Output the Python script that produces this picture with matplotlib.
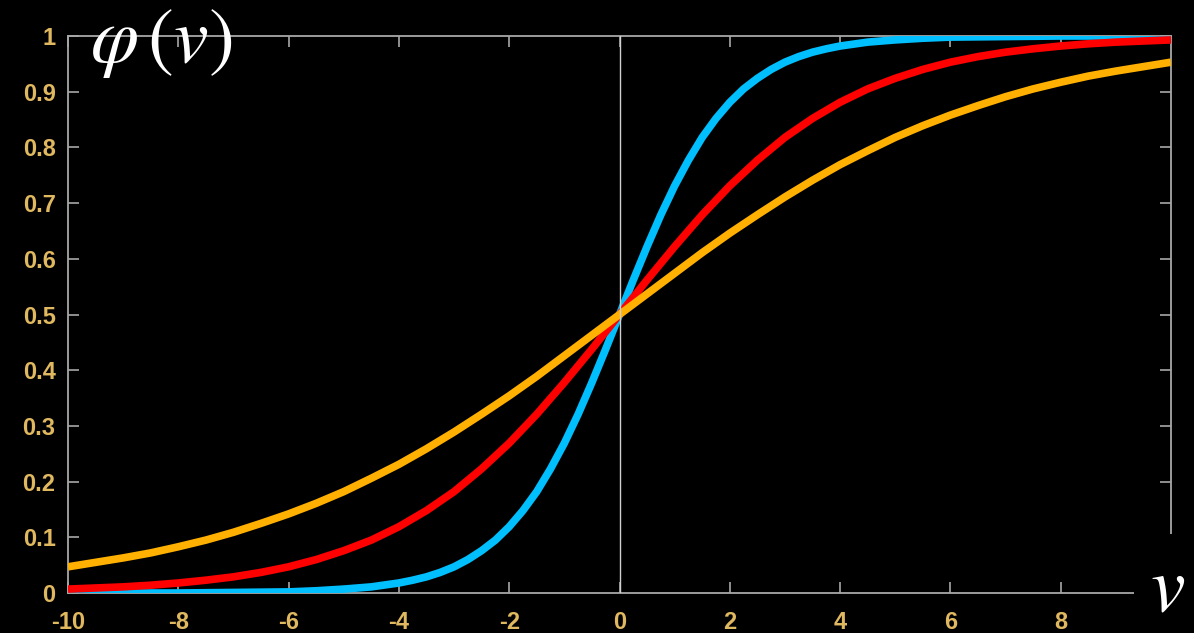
import matplotlib
matplotlib.use("Agg")
import matplotlib.pyplot as plt

v = [-10.0, -9.5, -9.0, -8.5, -8.0, -7.5, -7.0, -6.5, -6.0, -5.5, -5.0,
     -4.5, -4.0, -3.5, -3.0, -2.5, -2.0, -1.5, -1.0, -0.5, 0.0,
     0.5, 1.0, 1.5, 2.0, 2.5, 3.0, 3.5, 4.0, 4.5, 5.0,
     5.5, 6.0, 6.5, 7.0, 7.5, 8.0, 8.5, 9.0, 9.5, 10.0]

# blue bends sharply, so it gets a finer step in the middle
v_blue = [-10.0, -9.0, -8.0, -7.0, -6.0, -5.5, -5.0, -4.5,
          -4.0, -3.75, -3.5, -3.25, -3.0, -2.75, -2.5, -2.25, -2.0, -1.75, -1.5, -1.25,
          -1.0, -0.75, -0.5, -0.25, 0.0, 0.25, 0.5, 0.75, 1.0, 1.25, 1.5, 1.75,
          2.0, 2.25, 2.5, 2.75, 3.0, 3.25, 3.5, 3.75, 4.0,
          4.5, 5.0, 5.5, 6.0, 7.0, 8.0, 9.0, 10.0]
phi_blue = [0.000, 0.000, 0.000, 0.001, 0.002, 0.004, 0.007, 0.011,
            0.018, 0.023, 0.029, 0.037, 0.047, 0.060, 0.076, 0.095, 0.119, 0.148, 0.182, 0.223,
            0.269, 0.321, 0.378, 0.438, 0.500, 0.562, 0.622, 0.679, 0.731, 0.777, 0.818, 0.852,
            0.881, 0.905, 0.924, 0.940, 0.953, 0.963, 0.971, 0.977, 0.982,
            0.989, 0.993, 0.996, 0.998, 0.999, 1.000, 1.000, 1.000]

phi_red = [0.007, 0.009, 0.011, 0.014, 0.018, 0.023, 0.029, 0.037, 0.047, 0.060, 0.076,
           0.095, 0.119, 0.148, 0.182, 0.223, 0.269, 0.321, 0.378, 0.438, 0.500,
           0.562, 0.622, 0.679, 0.731, 0.777, 0.818, 0.852, 0.881, 0.905, 0.924,
           0.940, 0.953, 0.963, 0.971, 0.977, 0.982, 0.986, 0.989, 0.991, 0.993]

phi_orange = [0.047, 0.055, 0.063, 0.072, 0.083, 0.095, 0.109, 0.125, 0.142, 0.161, 0.182,
              0.206, 0.231, 0.259, 0.289, 0.321, 0.354, 0.389, 0.426, 0.463, 0.500,
              0.537, 0.574, 0.611, 0.646, 0.679, 0.711, 0.741, 0.769, 0.794, 0.818,
              0.839, 0.858, 0.875, 0.891, 0.905, 0.917, 0.928, 0.937, 0.945, 0.953]

x_ticks = [-10, -8, -6, -4, -2, 0, 2, 4, 6, 8]
x_labels = ["-10", "-8", "-6", "-4", "-2", "0", "2", "4", "6", "8"]
y_ticks = [0, 0.1, 0.2, 0.3, 0.4, 0.5, 0.6, 0.7, 0.8, 0.9, 1]
y_labels = ["0", "0.1", "0.2", "0.3", "0.4", "0.5", "0.6", "0.7", "0.8", "0.9", "1"]

plt.rcParams["mathtext.fontset"] = "stix"

fig = plt.figure(figsize=(11.94, 6.33), dpi=100, facecolor="black")
ax = fig.add_axes([68 / 1194, 40 / 633, 1103 / 1194, 557 / 633])
ax.set_facecolor("black")

ax.plot(v_blue, phi_blue, color="#00bfff", lw=5.5, solid_capstyle="butt", zorder=3)
ax.plot(v, phi_red, color="#ff0000", lw=5.5, solid_capstyle="butt", zorder=4)
ax.plot(v, phi_orange, color="#ffb000", lw=5.5, solid_capstyle="butt", zorder=5)
ax.axvline(0, color="#d0d0d0", lw=1, zorder=6)

ax.set_xlim(-10, 10)
ax.set_ylim(0, 1)
for s in ax.spines.values():
    s.set_color("#a8a8a8")
    s.set_linewidth(1.3)

ax.set_xticks(x_ticks)
ax.set_xticklabels(x_labels)
ax.set_yticks(y_ticks)
ax.set_yticklabels(y_labels)
ax.tick_params(direction="in", length=8, width=1.2, color="#a8a8a8",
               top=True, right=True, labelcolor="#e0b860", labelsize=17)
ax.tick_params(axis="x", pad=13)
ax.tick_params(axis="y", pad=9)
for lab in ax.get_xticklabels() + ax.get_yticklabels():
    lab.set_family(["Liberation Sans Narrow", "Liberation Sans"])
    lab.set_fontweight("bold")

fig.text(90 / 1194, 1 - 42 / 633, r"$\varphi\,(v)$", color="white", fontsize=56,
         ha="left", va="center")
fig.text(1168 / 1194, 1 - 588 / 633, r"$v$", color="white", fontsize=56,
         ha="center", va="center",
         bbox=dict(facecolor="black", edgecolor="none", pad=12))

fig.savefig("out.png", dpi=100, facecolor="black")
